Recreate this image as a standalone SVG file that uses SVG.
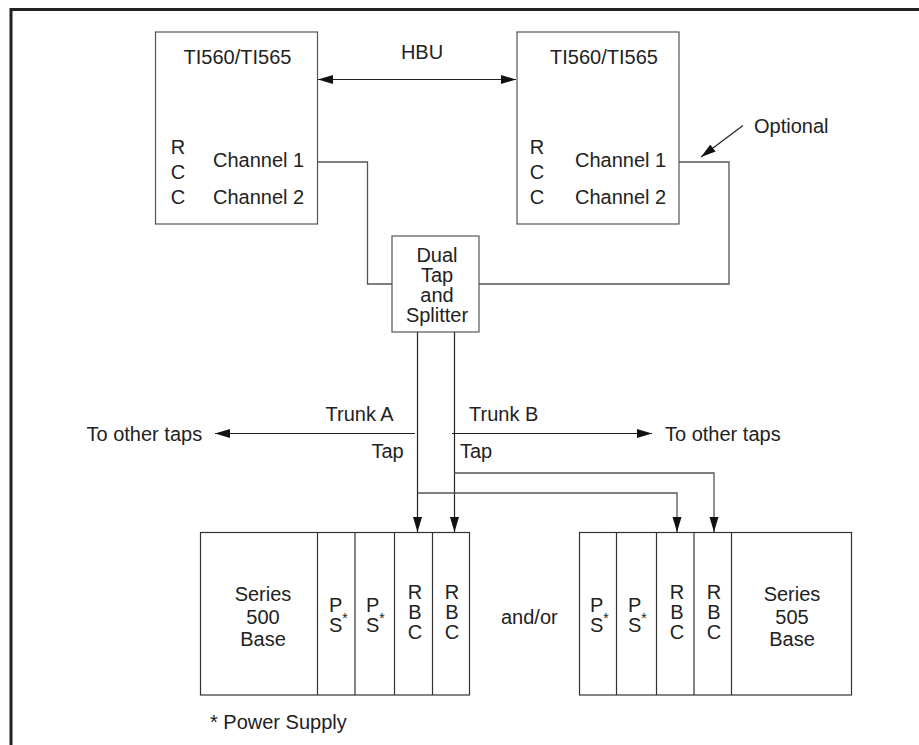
<svg xmlns="http://www.w3.org/2000/svg" width="919" height="745" viewBox="0 0 919 745">
<style>
  text { font-family: "Liberation Sans", Arial, sans-serif; font-size: 20px; fill: #222; }
  .c { text-anchor: middle; }
  .box { fill: #fff; stroke: #555; stroke-width: 1.2; }
  .rack { fill: #fff; stroke: #333; stroke-width: 1.2; }
  .div { stroke: #333; stroke-width: 1.2; fill: none; }
  .wire { fill: none; stroke: #555; stroke-width: 1.3; }
  .arr { fill: none; stroke: #222; stroke-width: 1.2; }
  .ast { font-size: 14px; }
  .border { stroke: #222; stroke-width: 3; fill: none; }
</style>
<defs>
  <marker id="ah" markerUnits="userSpaceOnUse" markerWidth="16" markerHeight="10" refX="15" refY="4.5" orient="auto-start-reverse">
    <path d="M0,0 L15,4.5 L0,9 z" fill="#111"/>
  </marker>
</defs>
<rect width="919" height="745" fill="#fff"/>
<path class="border" d="M11,745 V9.5 H919"/>

<g id="plc-left">
  <rect class="box" x="155.5" y="32" width="162" height="192"/>
  <text class="c" x="237.5" y="64">TI560/TI565</text>
  <text class="c"><tspan x="178" y="154">R</tspan><tspan x="178" y="179">C</tspan><tspan x="178" y="204">C</tspan></text>
  <text><tspan x="213" y="167">Channel 1</tspan><tspan x="213" y="204">Channel 2</tspan></text>
</g>

<g id="plc-right">
  <rect class="box" x="517" y="32" width="162" height="192"/>
  <text class="c" x="604" y="64">TI560/TI565</text>
  <text class="c"><tspan x="537" y="154">R</tspan><tspan x="537" y="179">C</tspan><tspan x="537" y="204">C</tspan></text>
  <text><tspan x="575" y="167">Channel 1</tspan><tspan x="575" y="204">Channel 2</tspan></text>
</g>

<g id="splitter">
  <rect class="box" x="392" y="236" width="87" height="96"/>
  <text class="c"><tspan x="437" y="262">Dual</tspan><tspan x="437" y="282">Tap</tspan><tspan x="437" y="302">and</tspan><tspan x="437" y="322">Splitter</tspan></text>
</g>

<g id="rack-500">
  <rect class="rack" x="200.5" y="532.5" width="269" height="162.5"/>
  <path class="div" d="M317.5,532.5 V695 M355,532.5 V695 M394.5,532.5 V695 M432.5,532.5 V695"/>
  <text class="c"><tspan x="263" y="601">Series</tspan><tspan x="263" y="624">500</tspan><tspan x="263" y="646">Base</tspan></text>
  <text><tspan x="329" y="612">P</tspan><tspan x="329" y="632">S</tspan><tspan class="ast" dy="-9">*</tspan></text>
  <text><tspan x="366" y="612">P</tspan><tspan x="366" y="632">S</tspan><tspan class="ast" dy="-9">*</tspan></text>
  <text class="c"><tspan x="415" y="599">R</tspan><tspan x="415" y="619">B</tspan><tspan x="415" y="639">C</tspan></text>
  <text class="c"><tspan x="452" y="599">R</tspan><tspan x="452" y="619">B</tspan><tspan x="452" y="639">C</tspan></text>
</g>

<g id="rack-505">
  <rect class="rack" x="579.5" y="532.5" width="272" height="162.5"/>
  <path class="div" d="M616.5,532.5 V695 M656.5,532.5 V695 M694,532.5 V695 M731.5,532.5 V695"/>
  <text><tspan x="590" y="612">P</tspan><tspan x="590" y="632">S</tspan><tspan class="ast" dy="-9">*</tspan></text>
  <text><tspan x="628" y="612">P</tspan><tspan x="628" y="632">S</tspan><tspan class="ast" dy="-9">*</tspan></text>
  <text class="c"><tspan x="677" y="599">R</tspan><tspan x="677" y="619">B</tspan><tspan x="677" y="639">C</tspan></text>
  <text class="c"><tspan x="714" y="599">R</tspan><tspan x="714" y="619">B</tspan><tspan x="714" y="639">C</tspan></text>
  <text class="c"><tspan x="792" y="601">Series</tspan><tspan x="792" y="624">505</tspan><tspan x="792" y="646">Base</tspan></text>
</g>

<g id="connectors">
  <line class="arr" x1="318" y1="79.5" x2="516" y2="79.5" marker-start="url(#ah)" marker-end="url(#ah)"/>
  <path class="wire" d="M317.5,162 H367.5 V284 H392"/>
  <path class="wire" d="M679,162 H729 V284 H479"/>
  <line class="arr" x1="743" y1="125.5" x2="701" y2="157" marker-end="url(#ah)"/>
  <line class="arr" x1="417.5" y1="332" x2="417.5" y2="532" marker-end="url(#ah)"/>
  <line class="arr" x1="454.5" y1="332" x2="454.5" y2="532" marker-end="url(#ah)"/>
  <line class="arr" x1="415" y1="433.5" x2="215" y2="433.5" marker-end="url(#ah)"/>
  <line class="arr" x1="452" y1="433.5" x2="652" y2="433.5" marker-end="url(#ah)"/>
  <path class="wire" d="M454.5,473 H714 V520"/>
  <path class="wire" d="M417.5,493 H677 V520"/>
  <line class="arr" x1="714" y1="519" x2="714" y2="532" marker-end="url(#ah)"/>
  <line class="arr" x1="677" y1="519" x2="677" y2="532" marker-end="url(#ah)"/>
</g>

<g id="labels">
  <text class="c" x="422" y="59">HBU</text>
  <text x="754" y="133">Optional</text>
  <text x="325.5" y="421">Trunk A</text>
  <text x="469" y="421">Trunk B</text>
  <text x="86.5" y="441">To other taps</text>
  <text x="665" y="441">To other taps</text>
  <text x="371.5" y="457.5">Tap</text>
  <text x="460" y="457.5">Tap</text>
  <text x="501" y="623.5">and/or</text>
  <text x="210" y="729">* Power Supply</text>
</g>
</svg>
